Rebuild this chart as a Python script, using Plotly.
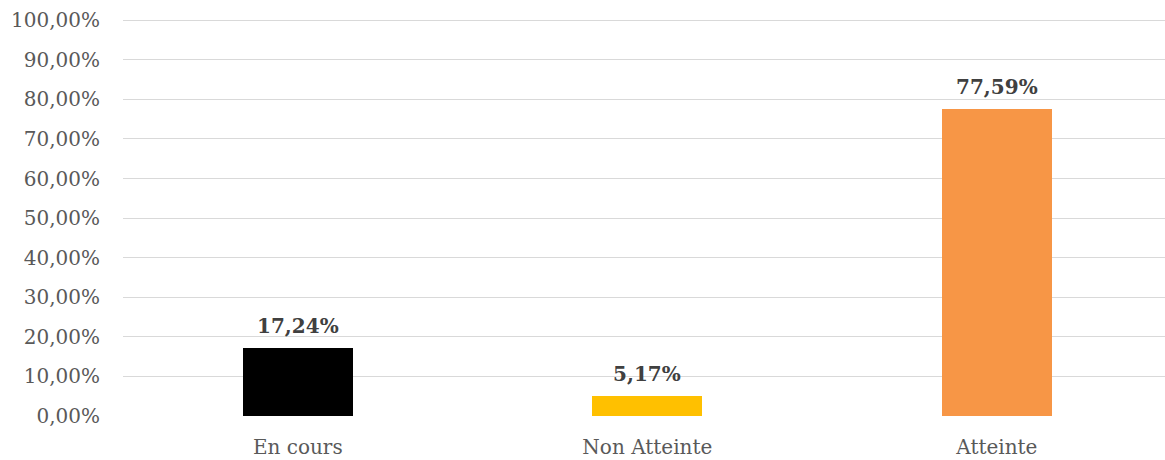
import plotly.graph_objects as go

categories = ["En cours", "Non Atteinte", "Atteinte"]
values = [0.1724, 0.0517, 0.7759]
value_labels = ["17,24%", "5,17%", "77,59%"]
bar_colors = ["#000000", "#FFC000", "#F79646"]
tick_vals = [i / 10 for i in range(11)]
tick_text = [f"{i*10},00%" for i in range(11)]

fig = go.Figure()
fig.add_trace(go.Bar(
    x=categories, y=values, marker=dict(color=bar_colors, line=dict(width=0)),
    width=0.315, hoverinfo="skip",
))
for c, v, t in zip(categories, values, value_labels):
    fig.add_annotation(x=c, y=v, text=f"<b>{t}</b>", showarrow=False,
                       yanchor="bottom", yshift=8,
                       font=dict(family="DejaVu Serif", size=20, color="#404040"))

fig.update_layout(
    width=1165, height=460,
    margin=dict(l=123, r=0, t=19, b=44),
    paper_bgcolor="white", plot_bgcolor="white",
    showlegend=False,
    font=dict(family="DejaVu Serif", size=20, color="#595959"),
    bargap=0,
)
fig.update_xaxes(
    range=[-0.5, 2.481], showgrid=False, showline=False, zeroline=False,
    ticks="", ticklabelstandoff=17,
    tickfont=dict(family="DejaVu Serif", size=20, color="#595959"),
)
fig.update_yaxes(
    range=[0, 1.003], tickvals=tick_vals, ticktext=tick_text,
    showgrid=True, gridcolor="#D9D9D9", gridwidth=1.4,
    zeroline=False, showline=False, ticks="", ticklabelstandoff=22,
    tickfont=dict(family="DejaVu Serif", size=20, color="#595959"),
)

fig.write_html("out.html")
